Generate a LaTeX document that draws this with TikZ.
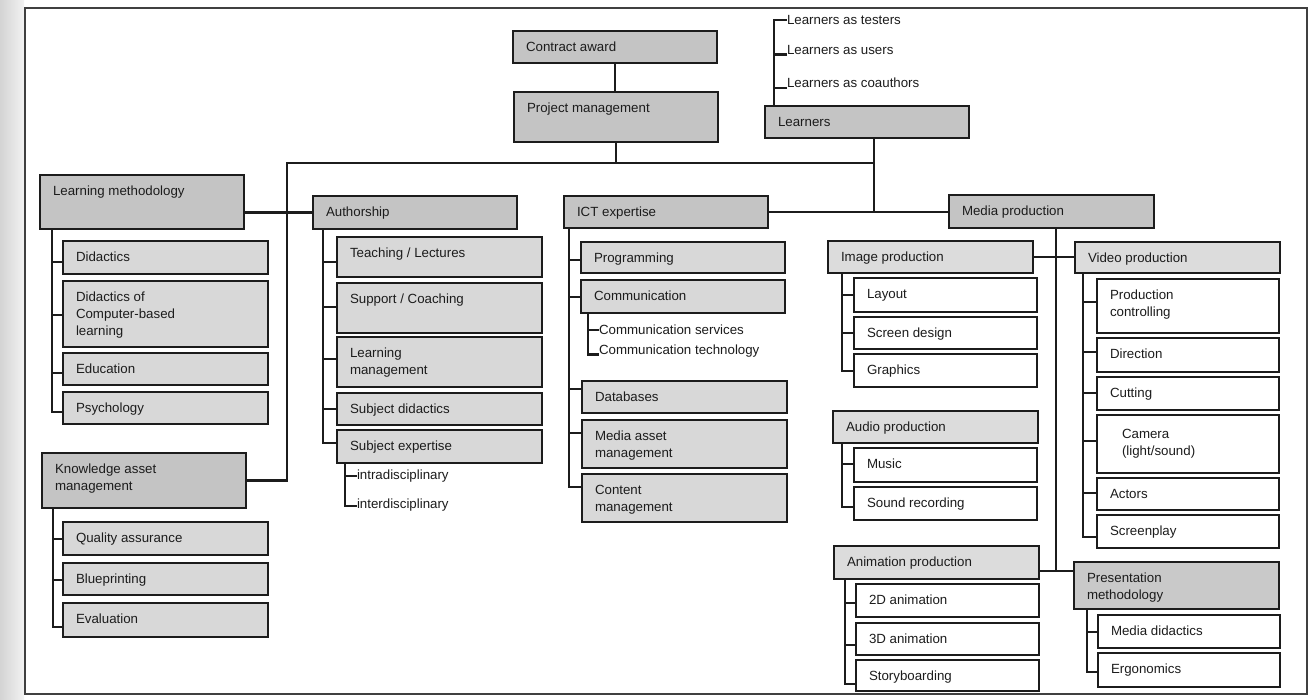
\documentclass[tikz,border=0pt]{standalone}
\usepackage{fontspec}
\setmainfont{Liberation Sans}
\usetikzlibrary{calc}

\definecolor{ink}{HTML}{1C1C1C}
\definecolor{topfill}{HTML}{C4C4C4}
\definecolor{subfill}{HTML}{D8D8D8}
\definecolor{grpfill}{HTML}{DCDCDC}
\definecolor{presfill}{HTML}{C9C9C9}

\newcommand\lblfont{\fontsize{13.3}{17}\selectfont}

% box with its label: name, x1, y1, x2, y2 (pixel grid, y downwards), style, text
\newcommand\chartbox[7]{%
  \node[#6, minimum width={(#4-#2)*1pt}, minimum height={(#5-#3)*1pt},
        anchor=north west] (#1) at (#2,#3) {};
  \node[lbl] (#1-t) at (#2+13,#3+11) {\rule{0pt}{9.6pt}#7};
}
% child hooked onto the spine of its parent: parent, spine x, child, tick y
\newcommand\kid[4]{%
  \draw[link] (#3.west |- 0,#4) -| (#1.south -| #2,0);
}

\tikzset{
  box/.style={draw=ink, line width=2.7pt, rectangle, inner sep=0pt, outer sep=0pt},
  topbox/.style={box, fill=topfill},
  subbox/.style={box, fill=subfill},
  grpbox/.style={box, fill=grpfill},
  presbox/.style={box, fill=presfill},
  wbox/.style={box, fill=white},
  lbl/.style={inner sep=0pt, outer sep=0pt, font=\lblfont, text=ink,
              align=left, anchor=north west},
  link/.style={draw=ink, line width=2.2pt},
  outerframe/.style={draw=black!75, line width=1.8pt},
}

\begin{document}
\begin{tikzpicture}[x=1pt, y=-1pt]
\useasboundingbox (0,0) rectangle (1314,699);
\fill[white] (0,0) rectangle (1314,699);
\shade[left color=black!17, right color=black!5] (0,0) rectangle (24,699);
\draw[outerframe] (25,8) rectangle (1307,694);

% ---- top level ----
\chartbox{ca}{513}{31}{717}{63}{topbox}{Contract award}
\chartbox{pm}{514}{92}{718}{142}{topbox}{Project management}
\chartbox{lrn}{765}{106}{969}{138}{topbox}{Learners}
\chartbox{lm}{40}{175}{244}{229}{topbox}{Learning methodology}
\chartbox{auth}{313}{196}{517}{229}{topbox}{Authorship}
\chartbox{ict}{564}{196}{768}{228}{topbox}{ICT expertise}
\chartbox{mp}{949}{195}{1154}{228}{topbox}{Media production}
\chartbox{kam}{42}{453}{246}{508}{topbox}{Knowledge asset\\management}

% learner roles
\node[lbl, anchor=west] (lt1) at (787,20) {Learners as testers};
\node[lbl, anchor=west] (lt2) at (787,50) {Learners as users};
\node[lbl, anchor=west] (lt3) at (787,83) {Learners as coauthors};
\draw[link] (lrn.north -| 774,0) |- (lt1.west);
\draw[link] (lt2.base west) -- (lt2.base west -| 774,0);
\draw[link] (lt3.base west) -- (lt3.base west -| 774,0);

% main bus
\coordinate (bl) at (287,163);
\coordinate (br) at (874,163);
\draw[link] (ca.south) -- (ca.south |- pm.north);
\draw[link] (pm.south) -- (pm.south |- bl);
\draw[link] (kam.east) -| (bl) -- (br);
\draw[link] (br |- lrn.south) -- (br |- ict.east);
\draw[link] (ict.east) -- (ict.east -| mp.west);
\draw[link] (lm.east |- auth.west) -- (auth.west);

% ---- learning methodology ----
\chartbox{did}{63}{241}{268}{274}{subbox}{Didactics}
\chartbox{dcbl}{63}{281}{268}{347}{subbox}{Didactics of\\Computer-based\\learning}
\chartbox{edu}{63}{353}{268}{385}{subbox}{Education}
\chartbox{psy}{63}{392}{268}{424}{subbox}{Psychology}
\kid{lm}{52}{did}{262}
\kid{lm}{52}{dcbl}{315}
\kid{lm}{52}{edu}{373}
\kid{lm}{52}{psy}{412}

% ---- knowledge asset management ----
\chartbox{qa}{63}{522}{268}{555}{subbox}{Quality assurance}
\chartbox{blue}{63}{563}{268}{595}{subbox}{Blueprinting}
\chartbox{eval}{63}{603}{268}{637}{subbox}{Evaluation}
\kid{kam}{53}{qa}{539}
\kid{kam}{53}{blue}{580}
\kid{kam}{53}{eval}{627}

% ---- authorship ----
\chartbox{teach}{337}{237}{542}{277}{subbox}{Teaching / Lectures}
\chartbox{supp}{337}{283}{542}{333}{subbox}{Support / Coaching}
\chartbox{lman}{337}{337}{542}{387}{subbox}{Learning\\management}
\chartbox{sdid}{337}{393}{542}{425}{subbox}{Subject didactics}
\chartbox{sexp}{337}{430}{542}{463}{subbox}{Subject expertise}
\kid{auth}{323}{teach}{262}
\kid{auth}{323}{supp}{307}
\kid{auth}{323}{lman}{359}
\kid{auth}{323}{sdid}{409}
\kid{auth}{323}{sexp}{443}
\node[lbl, anchor=west] (intra) at (357,476) {intradisciplinary};
\node[lbl, anchor=west] (inter) at (357,505) {interdisciplinary};
\draw[link] (sexp.south -| 345,0) |- (inter.west |- 0,506);
\draw[link] (intra.west) -- (intra.west -| 345,0);

% ---- ICT expertise ----
\chartbox{prog}{581}{242}{785}{273}{subbox}{Programming}
\chartbox{comm}{581}{280}{785}{313}{subbox}{Communication}
\chartbox{db}{582}{381}{787}{413}{subbox}{Databases}
\chartbox{mam}{582}{420}{787}{468}{subbox}{Media asset\\management}
\chartbox{cman}{582}{474}{787}{522}{subbox}{Content\\management}
\kid{ict}{569}{prog}{260}
\kid{ict}{569}{comm}{297}
\kid{ict}{569}{db}{389}
\kid{ict}{569}{mam}{433}
\kid{ict}{569}{cman}{487}
\node[lbl, anchor=west] (csvc) at (599,330) {Communication services};
\node[lbl, anchor=west] (ctec) at (599,351) {Communication technology};
\draw[link] (comm.south -| 588,0) |- (ctec.base west);
\draw[link] (csvc.west) -- (csvc.west -| 588,0);

% ---- media production ----
\coordinate (ms) at (1056,571);
\draw[link] (mp.south -| ms) -- (ms);

\chartbox{imgp}{828}{241}{1033}{273}{grpbox}{Image production}
\chartbox{lay}{854}{278}{1037}{312}{wbox}{Layout}
\chartbox{sdes}{854}{317}{1037}{349}{wbox}{Screen design}
\chartbox{gra}{854}{354}{1037}{387}{wbox}{Graphics}
\kid{imgp}{842}{lay}{295}
\kid{imgp}{842}{sdes}{333}
\kid{imgp}{842}{gra}{371}

\chartbox{audp}{833}{411}{1038}{443}{grpbox}{Audio production}
\chartbox{mus}{854}{448}{1037}{482}{wbox}{Music}
\chartbox{snd}{854}{487}{1037}{520}{wbox}{Sound recording}
\kid{audp}{842}{mus}{464}
\kid{audp}{842}{snd}{507}

\chartbox{animp}{834}{546}{1039}{579}{grpbox}{Animation production}
\chartbox{atwo}{856}{584}{1039}{617}{wbox}{2D animation}
\chartbox{athree}{856}{623}{1039}{655}{wbox}{3D animation}
\chartbox{story}{856}{660}{1039}{691}{wbox}{Storyboarding}
\kid{animp}{845}{atwo}{603}
\kid{animp}{845}{athree}{645}
\kid{animp}{845}{story}{684}

\chartbox{vidp}{1075}{242}{1280}{273}{grpbox}{Video production}
\chartbox{pctl}{1097}{279}{1279}{333}{wbox}{Production\\controlling}
\chartbox{dir}{1097}{338}{1279}{372}{wbox}{Direction}
\chartbox{cut}{1097}{377}{1279}{410}{wbox}{Cutting}
\node[wbox, minimum width=182pt, minimum height=58pt, anchor=north west]
  (cam) at (1097,415) {};
\node[lbl, anchor=west] (cam-t) at (1122,444) {Camera\\(light/sound)};
\chartbox{act}{1097}{478}{1279}{510}{wbox}{Actors}
\chartbox{scr}{1097}{515}{1279}{548}{wbox}{Screenplay}
\kid{vidp}{1083}{pctl}{302}
\kid{vidp}{1083}{dir}{352}
\kid{vidp}{1083}{cut}{393}
\kid{vidp}{1083}{cam}{441}
\kid{vidp}{1083}{act}{493}
\kid{vidp}{1083}{scr}{537}

\chartbox{presm}{1074}{562}{1279}{609}{presbox}{Presentation\\methodology}
\chartbox{mdid}{1098}{615}{1280}{648}{wbox}{Media didactics}
\chartbox{ergo}{1098}{653}{1280}{687}{wbox}{Ergonomics}
\kid{presm}{1087}{mdid}{632}
\kid{presm}{1087}{ergo}{672}

\draw[link] (imgp.east) -- (imgp.east -| vidp.west);
\draw[link] (animp.east |- ms) -- (presm.west |- ms);
\end{tikzpicture}
\end{document}
